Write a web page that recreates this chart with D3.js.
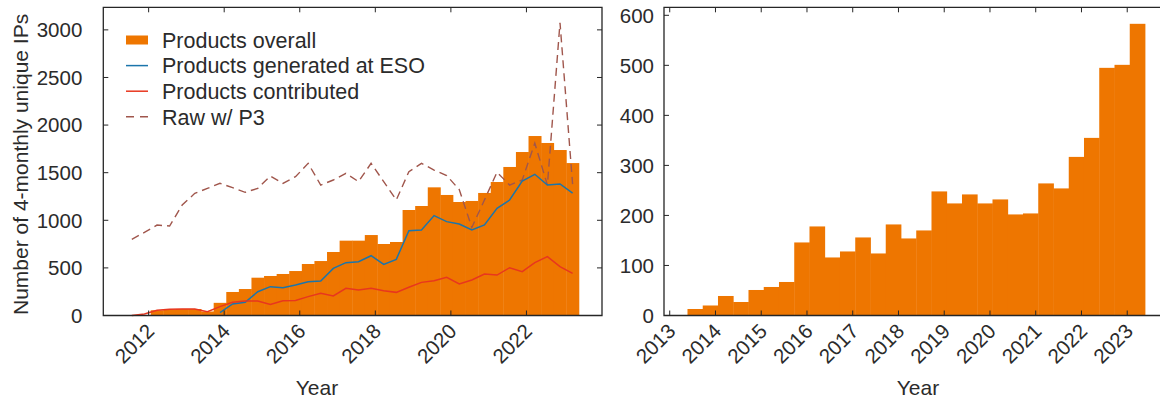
<!DOCTYPE html>
<html>
<head>
<meta charset="utf-8">
<script src="https://cdn.jsdelivr.net/npm/d3@7/dist/d3.min.js"></script>
<style>
   body { margin: 0; background: #fff; }
   svg { display: block; font-family: "Liberation Sans", Arial, sans-serif; }
   .tick-label { font-size: 20.5px; fill: #2b2b2b; }
   .axis-label { font-size: 21px; fill: #2b2b2b; }
   .legend text { font-size: 21.5px; fill: #2b2b2b; }
</style>
</head>
<body>
<div id="chart"></div>
<script>
// 4-monthly bins, centre of the first bin and the step in years
const firstBin = 2011.555;
const binStep = 1 / 3;

// left panel: unique IPs per 4-month bin
const productsOverall = [null, null, 55, 65, 68, 68, 42, 133, 247, 278, 397, 415, 436, 467, 541, 572, 667, 786,
   786, 845, 751, 772, 1108, 1150, 1346, 1266, 1192, 1203, 1287, 1402, 1560, 1717, 1885, 1812, 1738, 1601];
const generatedAtEso = [null, null, null, null, null, null, null, 30, 121, 138, 250, 303, 292, 320, 355, 362, 495,
   555, 565, 628, 537, 590, 891, 898, 1049, 986, 961, 898, 951, 1126, 1213, 1413, 1483, 1370, 1381, 1286];
const contributed = [0, 16, 55, 65, 68, 68, 40, 93, 138, 152, 152, 117, 155, 158, 198, 233, 205, 285, 268, 285,
   260, 243, 296, 348, 366, 401, 331, 373, 436, 425, 502, 460, 555, 618, 513, 443];
const rawWithP3 = [800, 873, 950, 940, 1160, 1283, 1335, 1388, 1343, 1294, 1335, 1465, 1388, 1458, 1598, 1370,
   1423, 1493, 1406, 1598, 1406, 1213, 1511, 1598, 1528, 1470, 1322, 925, 1213, 1505, 1370, 1423, 1810, 1370,
   3075, 1380];

// right panel: starts at the 7th bin
const rightFirstIndex = 6;
const rightValues = [13, 20, 39, 27, 51, 57, 67, 146, 178, 116, 128, 156, 124, 182, 154, 170, 248, 224, 242, 224,
   232, 202, 204, 264, 254, 317, 355, 495, 501, 583];

const leftYTicks = [0, 500, 1000, 1500, 2000, 2500, 3000];
const leftXTicks = [2012, 2014, 2016, 2018, 2020, 2022];
const rightYTicks = [0, 100, 200, 300, 400, 500, 600];
const rightXTicks = [2013, 2014, 2015, 2016, 2017, 2018, 2019, 2020, 2021, 2022, 2023];

const legendItems = [
   { label: 'Products overall', type: 'bar' },
   { label: 'Products generated at ESO', type: 'line', color: '#1b75ab' },
   { label: 'Products contributed', type: 'line', color: '#e8361e' },
   { label: 'Raw w/ P3', type: 'dash', color: '#a0564c' }
];

const barColor = '#ee7600';
const ink = '#262626';

const times = productsOverall.map((d, i) => firstBin + i * binStep);

const svg = d3.select('#chart')
   .append('svg')
   .attr('width', 1160)
   .attr('height', 400);

function frame(g, x, y, xTicks, yTicks) {
   const [x0, x1] = x.range();
   const [y0, y1] = y.range();
   const tickLen = 5;

   g.append('g').selectAll('line')
      .data(yTicks)
      .enter()
      .append('line')
      .attr('x1', x0).attr('x2', x0 + tickLen)
      .attr('y1', d => y(d)).attr('y2', d => y(d))
      .attr('stroke', ink);

   g.append('g').selectAll('line')
      .data(yTicks)
      .enter()
      .append('line')
      .attr('x1', x1).attr('x2', x1 - tickLen)
      .attr('y1', d => y(d)).attr('y2', d => y(d))
      .attr('stroke', ink);

   g.append('g').selectAll('line')
      .data(xTicks)
      .enter()
      .append('line')
      .attr('x1', d => x(d)).attr('x2', d => x(d))
      .attr('y1', y0).attr('y2', y0 - tickLen)
      .attr('stroke', ink);

   g.append('g').selectAll('line')
      .data(xTicks)
      .enter()
      .append('line')
      .attr('x1', d => x(d)).attr('x2', d => x(d))
      .attr('y1', y1).attr('y2', y1 + tickLen)
      .attr('stroke', ink);

   g.append('path')
      .attr('d', `M${x0},${y1}H${x1}V${y0}H${x0}Z`)
      .attr('fill', 'none')
      .attr('stroke', ink)
      .attr('stroke-width', 1.3);
}

function tickLabels(g, x, y, xTicks, yTicks, yGap) {
   const [x0] = x.range();
   const [y0] = y.range();

   g.append('g').selectAll('text')
      .data(yTicks)
      .enter()
      .append('text')
      .attr('class', 'tick-label')
      .attr('x', x0 - yGap)
      .attr('y', d => y(d))
      .attr('dy', '0.36em')
      .attr('text-anchor', 'end')
      .text(d => d);

   g.append('g').selectAll('text')
      .data(xTicks)
      .enter()
      .append('text')
      .attr('class', 'tick-label')
      .attr('text-anchor', 'end')
      .attr('transform', d => `translate(${x(d) + 7},${y0 + 17}) rotate(-45)`)
      .text(d => d);
}

function series(values) {
   return values.map((v, i) => ({ t: times[i], v: v }));
}

// ---- left panel ----
const xl = d3.scaleLinear().domain([2010.8, 2024.0]).range([103.3, 602]);
const yl = d3.scaleLinear().domain([0, 3237]).range([315.5, 7.3]);
const left = svg.append('g');

const binW = xl(firstBin + binStep) - xl(firstBin);

left.append('g').selectAll('rect')
   .data(series(productsOverall).filter(d => d.v !== null))
   .enter()
   .append('rect')
   .attr('x', d => xl(d.t) - binW / 2)
   .attr('width', binW + 0.4)
   .attr('y', d => yl(d.v))
   .attr('height', d => yl(0) - yl(d.v))
   .attr('fill', barColor);

const line = d3.line()
   .defined(d => d.v !== null)
   .x(d => xl(d.t))
   .y(d => yl(d.v));

left.append('path')
   .attr('d', line(series(rawWithP3)))
   .attr('fill', 'none')
   .attr('stroke', legendItems[3].color)
   .attr('stroke-width', 1.4)
   .attr('stroke-dasharray', '8,5');

left.append('path')
   .attr('d', line(series(generatedAtEso)))
   .attr('fill', 'none')
   .attr('stroke', legendItems[1].color)
   .attr('stroke-width', 1.5);

left.append('path')
   .attr('d', line(series(contributed)))
   .attr('fill', 'none')
   .attr('stroke', legendItems[2].color)
   .attr('stroke-width', 1.5);

frame(left, xl, yl, leftXTicks, leftYTicks);
tickLabels(left, xl, yl, leftXTicks, leftYTicks, 21);

left.append('text')
   .attr('class', 'axis-label')
   .attr('text-anchor', 'middle')
   .attr('transform', `translate(28,${(yl.range()[0] + yl.range()[1]) / 2 + 3}) rotate(-90)`)
   .text('Number of 4-monthly unique IPs');

left.append('text')
   .attr('class', 'axis-label')
   .attr('text-anchor', 'middle')
   .attr('x', 317)
   .attr('y', 395)
   .text('Year');

const legend = left.selectAll('.legend')
   .data(legendItems)
   .enter()
   .append('g')
   .attr('class', 'legend')
   .attr('transform', (d, i) => `translate(126,${40 + i * 25.6})`);

legend.filter(d => d.type === 'bar')
   .append('rect')
   .attr('x', 0).attr('y', -4.5)
   .attr('width', 22).attr('height', 9)
   .attr('fill', barColor);

legend.filter(d => d.type !== 'bar')
   .append('line')
   .attr('x1', 0).attr('x2', 22)
   .attr('stroke', d => d.color)
   .attr('stroke-width', 1.5)
   .attr('stroke-dasharray', d => d.type === 'dash' ? '8,6' : null);

legend.append('text')
   .attr('x', 36)
   .attr('dy', '0.36em')
   .text(d => d.label);

// ---- right panel (its right edge runs past the picture) ----
const xr = d3.scaleLinear().domain([2012.875, 2024.125]).range([664, 1178.7]);
const yr = d3.scaleLinear().domain([0, 616]).range([315.5, 7.3]);
const rightPanel = svg.append('g');
const binWr = xr(firstBin + binStep) - xr(firstBin);

rightPanel.append('g').selectAll('rect')
   .data(rightValues)
   .enter()
   .append('rect')
   .attr('x', (d, i) => xr(times[rightFirstIndex + i]) - binWr / 2)
   .attr('width', binWr + 0.4)
   .attr('y', d => yr(d))
   .attr('height', d => yr(0) - yr(d))
   .attr('fill', barColor);

frame(rightPanel, xr, yr, rightXTicks, rightYTicks);
tickLabels(rightPanel, xr, yr, rightXTicks, rightYTicks, 10);

rightPanel.append('text')
   .attr('class', 'axis-label')
   .attr('text-anchor', 'middle')
   .attr('x', 918)
   .attr('y', 395)
   .text('Year');
</script>
</body>
</html>
